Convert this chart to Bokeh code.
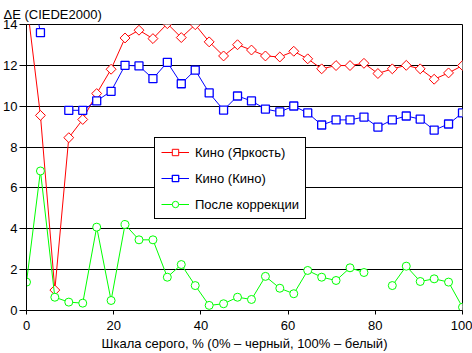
from bokeh.plotting import figure
from bokeh.models import Range1d, Legend, LegendItem, FixedTicker
from bokeh.embed import file_html
from bokeh.resources import INLINE

nan = float("nan")

# gray levels, %
gray = [0, 3.2, 6.5, 9.7, 12.9, 16.1, 19.4, 22.6, 25.8, 29.0, 32.3, 35.5, 38.7,
        41.9, 45.2, 48.4, 51.6, 54.8, 58.1, 61.3, 64.5, 67.7, 71.0, 74.2, 77.4,
        80.6, 83.9, 87.1, 90.3, 93.5, 96.8, 100]

kino_brightness = [15.2, 9.55, 1.0, 8.46, 9.35, 10.62, 11.81, 13.34, 13.72, 13.31,
                   14.04, 13.36, 13.99, 13.15, 12.46, 13.01, 12.75, 12.46, 12.41,
                   12.69, 12.32, 11.83, 11.99, 11.99, 12.10, 11.6, 11.83, 12.0,
                   11.83, 11.32, 11.63, 11.99]

kino_kino = [17.2, 13.6, nan, 9.8, 9.8, 10.26, 10.73, 12.0, 11.97, 11.35, 12.15,
             11.1, 11.77, 10.65, 9.81, 10.5, 10.26, 9.86, 9.72, 10.01, 9.67, 9.08,
             9.33, 9.33, 9.47, 8.98, 9.33, 9.52, 9.37, 8.83, 9.13, 9.67]

after_corr = [1.39, 6.83, 0.65, 0.41, 0.36, 4.08, 0.49, 4.21, 3.46, 3.46, 1.63,
              2.25, 1.22, 0.25, 0.33, 0.65, 0.54, 1.67, 1.09, 0.82, 1.96, 1.63,
              1.47, 2.09, 1.86, nan, 1.22, 2.17, 1.42, 1.55, 1.39, 0.16]

labels = ["Кино (Яркость)", "Кино (Кино)", "После коррекции"]
x_ticks = [0, 20, 40, 60, 80, 100]
y_ticks = [0, 2, 4, 6, 8, 10, 12, 14]

FONT = "Liberation Sans"

p = figure(width=472, height=353, output_backend="svg", toolbar_location=None,
           x_range=Range1d(0, 100), y_range=Range1d(0, 14),
           min_border_left=23, min_border_right=10, min_border_top=24,
           min_border_bottom=43, background_fill_color="white",
           border_fill_color="white")

p.title.text = "ΔE (CIEDE2000)"
p.title.align = "left"
p.title.offset = -23
p.title.text_font = FONT
p.title.text_font_size = "13px"
p.title.text_font_style = "normal"
p.title.text_color = "black"
p.title.standoff = 6

p.outline_line_color = "black"
p.outline_line_width = 1
p.outline_line_alpha = 1

p.xgrid.visible = False
p.ygrid.grid_line_color = "black"
p.ygrid.grid_line_alpha = 1
p.ygrid.grid_line_width = 1

p.xaxis.ticker = FixedTicker(ticks=x_ticks)
p.yaxis.ticker = FixedTicker(ticks=y_ticks)
for ax in (p.xaxis[0], p.yaxis[0]):
    ax.axis_line_color = "black"
    ax.major_tick_line_color = "black"
    ax.minor_tick_line_color = None
    ax.major_tick_in = 0
    ax.major_label_text_font = FONT
    ax.major_label_text_font_size = "13px"
    ax.major_label_text_color = "black"

p.xaxis.major_tick_out = 4
p.xaxis.major_label_standoff = 6
p.xaxis.axis_label = "Шкала серого, % (0% – черный, 100% – белый)"
p.xaxis.axis_label_text_font = FONT
p.xaxis.axis_label_text_font_size = "13px"
p.xaxis.axis_label_text_font_style = "normal"
p.xaxis.axis_label_text_color = "black"
p.xaxis.axis_label_standoff = 3

p.yaxis.major_tick_out = 7
p.yaxis.major_label_standoff = 2

r1l = p.line(gray, kino_brightness, line_color="#ff0000", line_width=1)
r1s = p.scatter(gray, kino_brightness, marker="square", angle=45, angle_units="deg",
                size=7, line_color="#ff0000", fill_color="white", line_width=1)
r2l = p.line(gray, kino_kino, line_color="#0000ff", line_width=1)
r2s = p.scatter(gray, kino_kino, marker="square", size=8, line_color="#0000ff",
                fill_color="white", line_width=1.3)
r3l = p.line(gray, after_corr, line_color="#00ff00", line_width=1)
r3s = p.scatter(gray, after_corr, marker="circle", size=8, line_color="#00ff00",
                fill_color="white", line_width=1)

legend = Legend(items=[LegendItem(label=labels[0], renderers=[r1l, r1s]),
                       LegendItem(label=labels[1], renderers=[r2l, r2s]),
                       LegendItem(label=labels[2], renderers=[r3l, r3s])],
                location=(128, 91), margin=0, padding=6, spacing=10,
                glyph_width=28, glyph_height=16, label_height=16,
                label_standoff=6, label_text_font=FONT,
                label_text_font_size="13px", label_text_color="black",
                border_line_color="black", border_line_width=1,
                border_line_alpha=1, background_fill_color="white",
                background_fill_alpha=1)
p.add_layout(legend)

open("out.html", "w").write(file_html(p, INLINE))
